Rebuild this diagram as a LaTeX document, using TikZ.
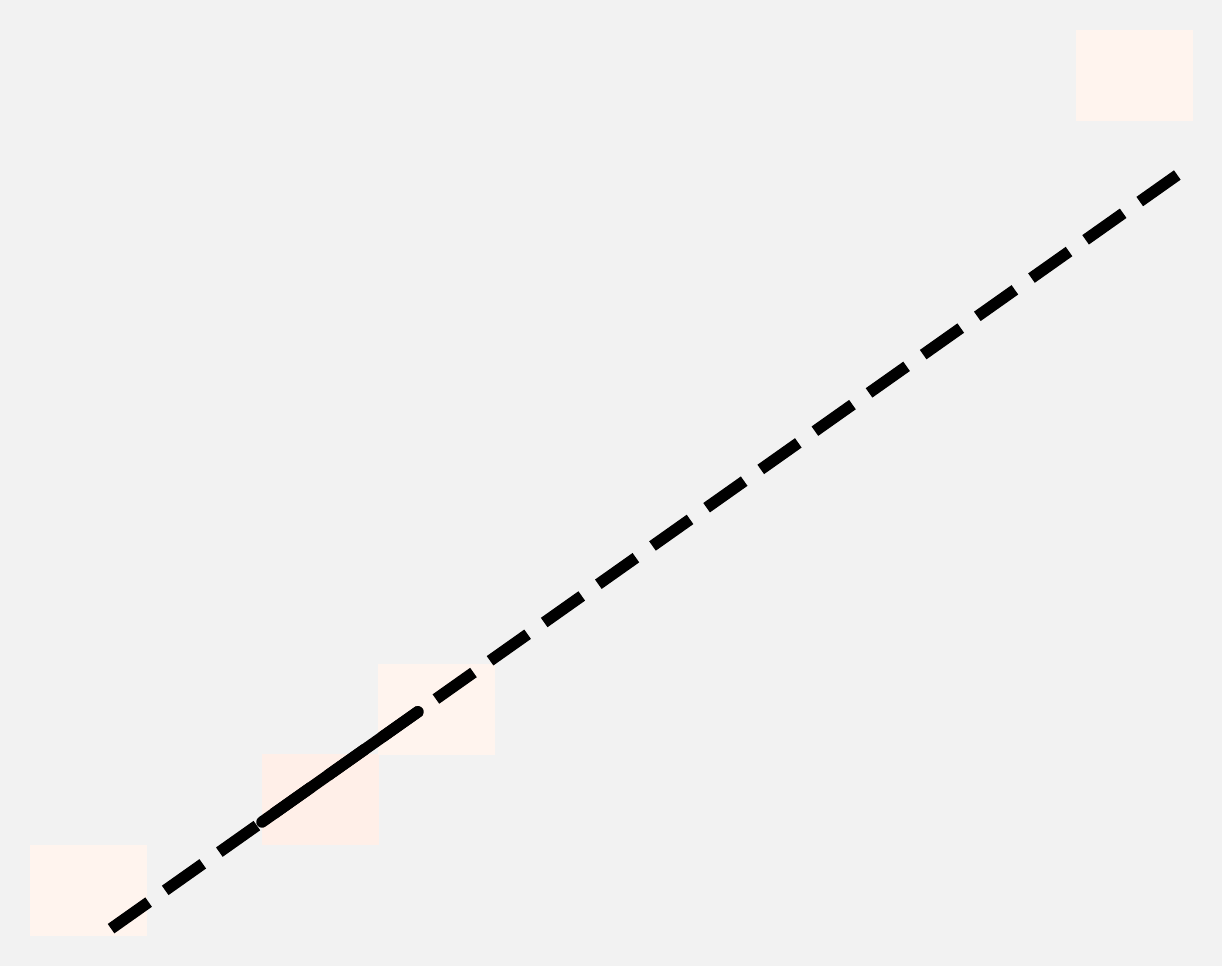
\documentclass[tikz,border=0pt]{standalone}
\definecolor{bg}{RGB}{242,242,242}
\definecolor{peachA}{RGB}{255,244,238}
\definecolor{peachB}{RGB}{255,239,232}
\begin{document}
\begin{tikzpicture}[x=1pt,y=-1pt,
  box/.style={draw=none,fill=#1,minimum width=117pt,minimum height=91pt,inner sep=0pt,outer sep=0pt,anchor=north west},
  dashline/.style={line width=11.5pt,dash pattern=on 46pt off 20.3pt},
  solidline/.style={line width=11.5pt,line cap=round}]
\fill[bg] (0,0) rectangle (1222,966);
\useasboundingbox (0,0) rectangle (1222,966);
\node[box=peachA] (r1) at (30,845) {};
\node[box=peachB] (r2) at (262,754) {};
\node[box=peachA] (r3) at (378,664) {};
\node[box=peachA] (r4) at (1076,30) {};
\coordinate (a) at (95,940);
\coordinate (b) at (1177.3,175);
\coordinate (s1) at (262,822);
\coordinate (s2) at (418,711.8);
\draw[dashline] (b) -- (a);
\draw[solidline] (s1) -- (s2);
\end{tikzpicture}
\end{document}
